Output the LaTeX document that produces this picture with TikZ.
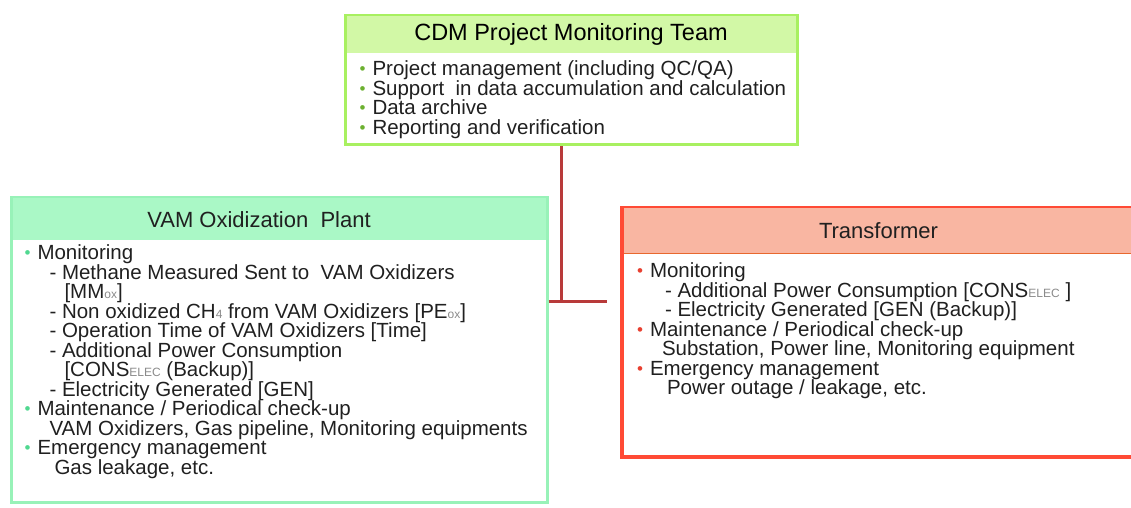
\documentclass[tikz,border=0pt]{standalone}
\usepackage{fontspec}
\setmainfont{Liberation Sans}
\usetikzlibrary{positioning}

\definecolor{cdmline}{HTML}{A8F060}
\definecolor{cdmfill}{HTML}{D2F8A6}
\definecolor{cdmdot}{HTML}{6CB030}
\definecolor{vamline}{HTML}{98F2B8}
\definecolor{vamfill}{HTML}{AAF8C6}
\definecolor{vamdot}{HTML}{50D890}
\definecolor{trfline}{HTML}{FF4A35}
\definecolor{trffill}{HTML}{F9B6A2}
\definecolor{trfsep}{HTML}{E8682E}
\definecolor{trfdot}{HTML}{E84030}
\definecolor{linkred}{HTML}{B83A3A}
\definecolor{subgray}{HTML}{8A8A8A}
\definecolor{txt}{HTML}{202020}

\newcommand{\bul}[1]{\makebox[13pt][l]{\raisebox{1.2pt}{\textcolor{#1}{\fontsize{17}{17}\selectfont\textbullet}}}}
\newcommand{\lowsub}[1]{{\color{subgray}\fontsize{12}{12}\selectfont #1}}

\begin{document}
\begin{tikzpicture}[
                        x=1pt, y=1pt,
                        frame/.style={draw, line width=3pt, anchor=north west, inner sep=0pt},
                        title/.style={inner sep=0pt, text=txt, font=\fontsize{22}{24}\selectfont},
                        body/.style={inner sep=0pt, align=left, text=txt, font=\fontsize{20.5}{19.5}\selectfont},
                        link/.style={draw=linkred, line width=3pt}
                    ]
                    \useasboundingbox (0,0) rectangle (1131,508);

                    % Blocks
                    \node [frame, draw=cdmline, minimum width=452pt, minimum height=129pt] (cdm) at (343.5,493.5) {};
                    \node [title, font=\fontsize{23.5}{25}\selectfont, text=black, fill=cdmfill, minimum width=449pt, minimum height=37pt, below=1.5pt of cdm.north] (cdmtitle) {CDM Project Monitoring Team};
                    \node [body, below right=7.5pt and 13pt of cdmtitle.south west] (cdmtext) {%
                        \bul{cdmdot}Project management (including QC/QA)\\
                        \bul{cdmdot}Support\ \ in data accumulation and calculation\\
                        \bul{cdmdot}Data archive\\
                        \bul{cdmdot}Reporting and verification};

                    \node [frame, draw=vamline, minimum width=536pt, minimum height=305pt] (vam) at (9.5,311.5) {};
                    \node [title, fill=vamfill, minimum width=533pt, minimum height=42pt, below=1.5pt of vam.north] (vamtitle) {\hspace*{-40pt}VAM Oxidization\ \ Plant};
                    \node [body, below right=4.5pt and 12pt of vamtitle.south west] (vamtext) {%
                        \bul{vamdot}Monitoring\\
                        \hspace*{25pt}- Methane Measured Sent to\ \ VAM Oxidizers\\
                        \hspace*{40pt}[MM\lowsub{ox}]\\
                        \hspace*{25pt}- Non oxidized CH\lowsub{4} from VAM Oxidizers [PE\lowsub{ox}]\\
                        \hspace*{25pt}- Operation Time of VAM Oxidizers [Time]\\
                        \hspace*{25pt}- Additional Power Consumption\\
                        \hspace*{40pt}[CONS\lowsub{ELEC} (Backup)]\\
                        \hspace*{25pt}- Electricity Generated [GEN]\\
                        \bul{vamdot}Maintenance / Periodical check-up\\
                        \hspace*{25pt}VAM Oxidizers, Gas pipeline, Monitoring equipments\\
                        \bul{vamdot}Emergency management\\
                        \hspace*{30pt}Gas leakage, etc.};

                    \node [frame, draw=trfline, line width=4pt, minimum width=513pt, minimum height=249pt] (trf) at (620,302) {};
                    \node [title, fill=trffill, minimum width=509pt, minimum height=45pt, below=2pt of trf.north] (trftitle) {Transformer};
                    \draw [trfsep, line width=1.5pt] (trftitle.south west) -- (trftitle.south east);
                    \node [body, below right=9.5pt and 13pt of trftitle.south west] (trftext) {%
                        \bul{trfdot}Monitoring\\
                        \hspace*{28pt}- Additional Power Consumption [CONS\lowsub{ELEC} ]\\
                        \hspace*{28pt}- Electricity Generated [GEN (Backup)]\\
                        \bul{trfdot}Maintenance / Periodical check-up\\
                        \hspace*{25pt}Substation, Power line, Monitoring equipment\\
                        \bul{trfdot}Emergency management\\
                        \hspace*{30pt}Power outage / leakage, etc.};

                    % Connections
                    \coordinate (tj) at (561,206);
                    \coordinate (tend) at (607,206);
                    \draw [link] (tj |- cdm.south) -- (tj);
                    \draw [link] (vam.east |- tj) -- (tend);
                \end{tikzpicture}
\end{document}
